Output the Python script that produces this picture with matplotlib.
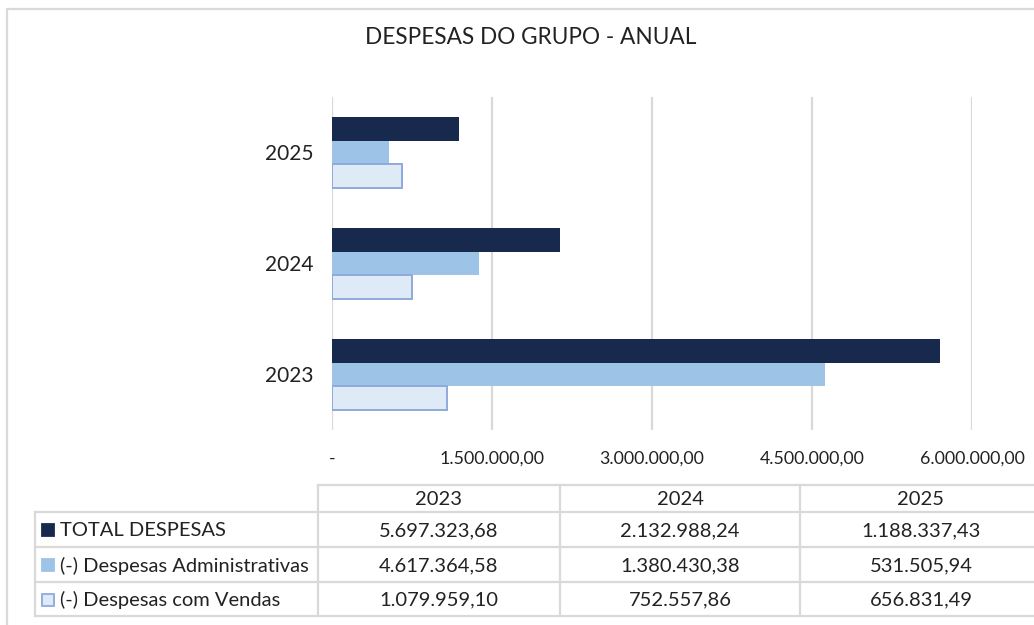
import numpy as np
import matplotlib
matplotlib.use("Agg")
import matplotlib.pyplot as plt
from matplotlib.patches import Rectangle

plt.rcParams['font.family'] = ['Lato', 'DejaVu Sans']

years = ["2023", "2024", "2025"]
series_names = ["TOTAL DESPESAS", "(-) Despesas Administrativas", "(-) Despesas com Vendas"]
total = [5697323.68, 2132988.24, 1188337.43]
adm = [4617364.58, 1380430.38, 531505.94]
vendas = [1079959.10, 752557.86, 656831.49]
xticks = [0, 1500000, 3000000, 4500000, 6000000]

c_total = "#172a4e"
c_adm = "#9dc3e6"
c_vend = "#deebf7"
c_vend_edge = "#8eaadc"
grid_c = "#d9d9d9"
txt_c = "#222222"

W, H = 1034, 625


def br(v):
    s = f"{v:,.2f}"
    return s.replace(",", "X").replace(".", ",").replace("X", ".")


fig = plt.figure(figsize=(W / 100, H / 100), dpi=100)

# overlay axes in pixel coords for border, title and table
ov = fig.add_axes([0, 0, 1, 1])
ov.set_xlim(0, W)
ov.set_ylim(H, 0)
ov.axis("off")

# chart border
ov.plot([7, 7, W + 10], [H + 10, 9, 9], color=grid_c, lw=1.6, solid_capstyle="butt")

ov.text(531, 37, "DESPESAS DO GRUPO - ANUAL", ha="center", va="center",
        fontsize=16.3, color=txt_c)

# bar chart
ax = fig.add_axes([332 / W, 1 - 430 / H, (972 - 332) / W, (430 - 97) / H])
y = np.arange(len(years))
h = 0.215
ax.barh(y + h, total, height=h, color=c_total, zorder=3)
ax.barh(y, adm, height=h, color=c_adm, zorder=3)
ax.barh(y - h, vendas, height=h, color=c_vend, edgecolor=c_vend_edge, linewidth=1.4, zorder=3)
ax.set_xlim(0, 6000000)
ax.set_ylim(-0.5, 2.5)
ax.set_yticks(y)
ax.set_yticklabels(years, fontsize=15, color=txt_c)
ax.set_xticks(xticks)
ax.set_xticklabels(["-" if v == 0 else br(v) for v in xticks], fontsize=12.8, color=txt_c)
ax.tick_params(axis="both", length=0)
ax.tick_params(axis="x", pad=15)
ax.tick_params(axis="y", pad=13)
ax.grid(axis="x", color=grid_c, lw=1.6, zorder=0)
ax.set_axisbelow(True)
for s in ax.spines.values():
    s.set_visible(False)

# data table
col_x = [318, 560, 800, 1042]
row_y = [485, 512, 547, 582, 616]
lw = 1.6
ov.plot([318, W + 10], [485, 485], color=grid_c, lw=lw)
for yy in row_y[1:]:
    ov.plot([35, W + 10], [yy, yy], color=grid_c, lw=lw)
ov.plot([35, 35], [512, 616], color=grid_c, lw=lw)
for xx in col_x:
    ov.plot([xx, xx], [485, 616], color=grid_c, lw=lw)

for j, yr in enumerate(years):
    cx = (col_x[j] + col_x[j + 1]) / 2
    ov.text(cx, (485 + 512) / 2 + 1, yr, ha="center", va="center", fontsize=14.5, color=txt_c)

rows = [total, adm, vendas]
faces = [c_total, c_adm, c_vend]
edges = [c_total, c_adm, c_vend_edge]
for i, (name, vals) in enumerate(zip(series_names, rows)):
    cy = (row_y[i + 1] + row_y[i + 2]) / 2 + 1
    ov.add_patch(Rectangle((42, cy - 6.5), 12, 12, facecolor=faces[i],
                           edgecolor=edges[i], lw=1.3))
    ov.text(60, cy, name, ha="left", va="center", fontsize=14.5, color=txt_c)
    for j, v in enumerate(vals):
        cx = (col_x[j] + col_x[j + 1]) / 2
        ov.text(cx, cy, br(v), ha="center", va="center", fontsize=14.5, color=txt_c)

fig.savefig("out.png", dpi=100)
